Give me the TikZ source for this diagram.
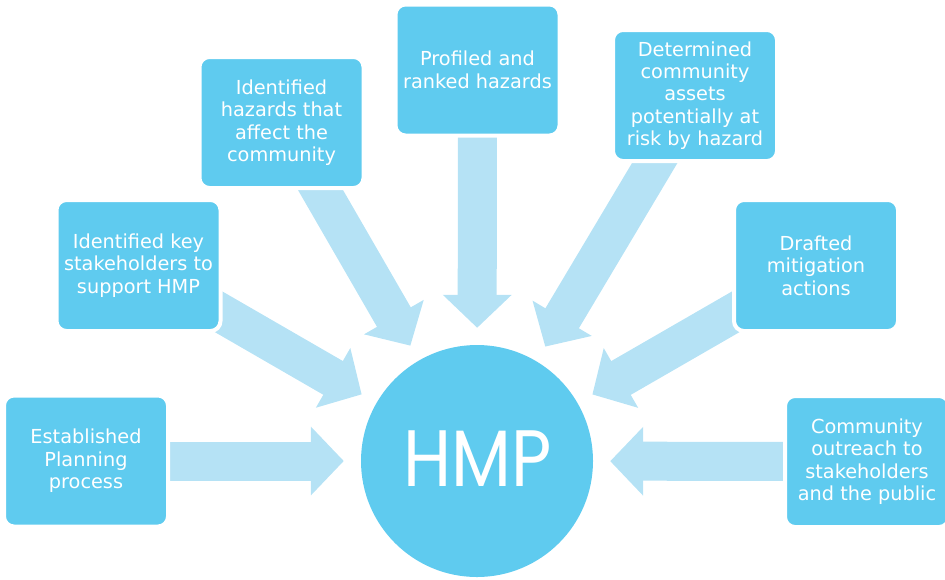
\documentclass[tikz,border=0pt]{standalone}
\usepackage{fontspec}
\setmainfont{DejaVu Sans}
\newfontfamily\hmpfont{Poppins}
\usepackage{tikz}
\usetikzlibrary{arrows.meta,backgrounds}
\definecolor{boxblue}{HTML}{5FCBEF}
\definecolor{arrowblue}{HTML}{B5E2F5}

\begin{document}
\begin{tikzpicture}[x=1pt, y=-1pt,
    box/.style={draw=white, line width=4pt, fill=boxblue, rounded corners=10pt,
        minimum width=164pt, minimum height=131pt, inner sep=2pt, align=center,
        text=white, font=\fontsize{19.3}{22.4}\selectfont},
    bigarrow/.style={draw=arrowblue, line width=39pt,
        -{Triangle[width=67pt, length=33pt, fill=arrowblue]}, shorten >=17pt}]
    \useasboundingbox (0,0) rectangle (945,579);
        \node(hmp)[circle, fill=boxblue, minimum size=232pt, inner sep=0pt] at (477,461) {};
        \node(hmptext)[text=white, xscale=0.87] at (478,459) {\hmpfont\fontsize{80}{80}\selectfont HMP};
   \node(b1)[box] at (86,461) {Established\\Planning\\process};
    \node(b2)[box] at (138.5,265.5) {Identified key\\stakeholders to\\support HMP};
    \node(b3)[box] at (281.5,122.5) {Identified\\hazards that\\affect the\\community};
    \node(b4)[box] at (477.5,70) {Profiled and\\ranked hazards};
    \node(b5)[box] at (695,95.5) {Determined\\community\\assets\\potentially at\\risk by hazard};
    \node(b6)[box] at (816,265.5) {Drafted\\mitigation\\actions};
    \node(b7)[box] at (867,461.5) {Community\\outreach to\\stakeholders\\and the public};
    \begin{scope}[on background layer]
    \draw[bigarrow] (b1.center) -- (hmp);
    \draw[bigarrow] (b2.center) -- (hmp);
    \draw[bigarrow] (b3.center) -- (hmp);
    \draw[bigarrow] (b4.center) -- (hmp);
    \draw[bigarrow] (b5.center) -- (hmp);
    \draw[bigarrow] (b6.center) -- (hmp);
    \draw[bigarrow] (b7.center) -- (hmp);
    \end{scope}
    \end{tikzpicture}
\end{document}
